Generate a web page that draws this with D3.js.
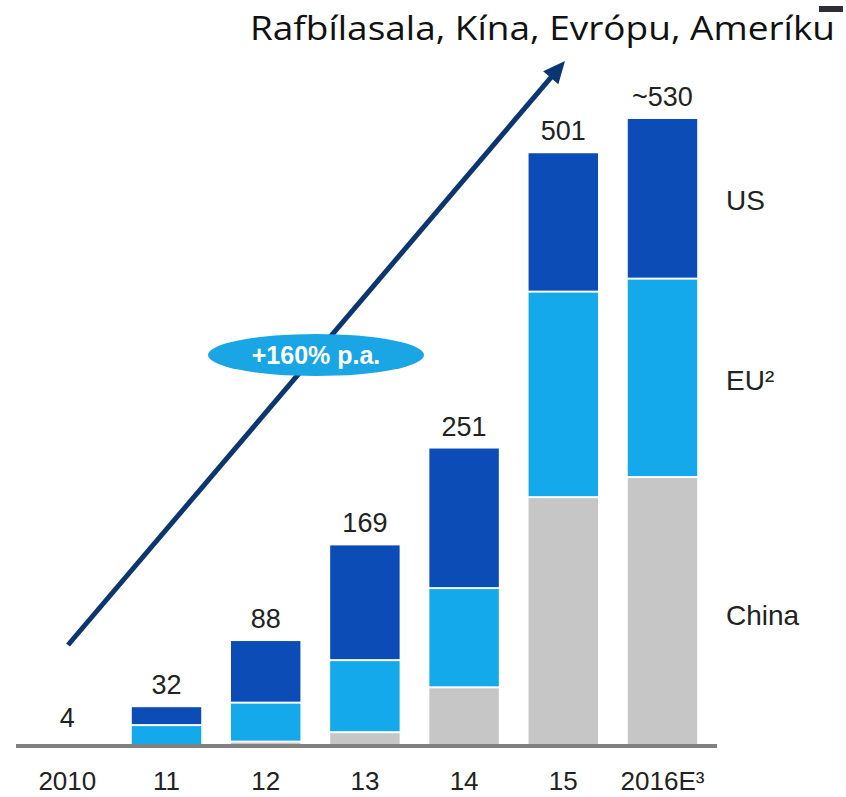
<!DOCTYPE html>
<html><head><meta charset="utf-8">
<script src="https://cdn.jsdelivr.net/npm/d3@7"></script>
<style>body{margin:0;background:#fff}svg{display:block}</style>
</head><body><svg id="c" width="846" height="797"></svg>
<script>
// ---- data ----
const categories = ["2010","11","12","13","14","15","2016E³"];
const totalLabels = ["4","32","88","169","251","501","~530"];
const china = [0, 0, 2, 10, 48, 209, 226];
const eu    = [0, 16, 33, 61, 84, 174, 168];
const us    = [0, 16, 53, 98, 119, 118, 136];
const totals = [4, 32, 88, 169, 251, 501, 530];
const seriesNames = ["China","EU²","US"];
const title = "Rafbílasala, Kína, Evrópu, Ameríku";
const growthLabel = "+160% p.a.";

const colors = {"China":"#c6c6c6","EU²":"#14a9eb","US":"#0b4cb6"};

const svg = d3.select("#c");
const baseY = 745;
const x = d3.scaleBand().domain(categories).range([32.6, 697.2]).paddingInner(0.3).paddingOuter(0);
const y = d3.scaleLinear().domain([0, 530]).range([baseY, 119]);

const rows = categories.map((c,i)=>({cat:c, "China":china[i], "EU²":eu[i], "US":us[i]}));
const stack = d3.stack().keys(seriesNames)(rows);

const gap = 2;
stack.forEach((layer, li) => {
  svg.append("g").selectAll("rect").data(layer.filter(d => d[1] > d[0])).join("rect")
    .attr("x", d => x(d.data.cat))
    .attr("width", x.bandwidth())
    .attr("y", d => y(d[1]))
    .attr("height", d => Math.max(0, y(d[0]) - y(d[1]) - (d[0] > 0 ? gap : 0)))
    .attr("fill", colors[seriesNames[li]]);
});

// baseline
svg.append("line").attr("x1", 16).attr("x2", 717).attr("y1", baseY+1).attr("y2", baseY+1)
  .attr("stroke", "#808080").attr("stroke-width", 4);

const font = "'Liberation Sans', Arial, sans-serif";
// total labels
svg.append("g").selectAll("text").data(categories).join("text")
  .attr("x", d => x(d) + x.bandwidth()/2)
  .attr("y", (d,i) => y(totals[i]) - 13)
  .attr("text-anchor","middle").attr("font-family", font).attr("font-size", 27)
  .attr("fill","#222").text((d,i)=>totalLabels[i]);

// category labels
svg.append("g").selectAll("text").data(categories).join("text")
  .attr("x", d => x(d) + x.bandwidth()/2)
  .attr("y", 790)
  .attr("text-anchor","middle").attr("font-family", font).attr("font-size", 26)
  .attr("fill","#222").text(d=>d);

// series labels on right
const legendY = {"US": 210, "EU²": 390, "China": 625};
seriesNames.forEach(s => {
  svg.append("text").attr("x", 726).attr("y", legendY[s])
    .attr("font-family", font).attr("font-size", 28).attr("fill","#222").text(s);
});

// arrow
const ax0 = 68, ay0 = 645, ax1 = 565, ay1 = 61;
const ang = Math.atan2(ay1-ay0, ax1-ax0);
const headLen = 22, headW = 10;
const lx = ax1 - Math.cos(ang)*headLen*0.8, ly = ay1 - Math.sin(ang)*headLen*0.8;
svg.append("line").attr("x1", ax0).attr("y1", ay0).attr("x2", lx).attr("y2", ly)
  .attr("stroke", "#0c3670").attr("stroke-width", 5);
const bx = ax1 - Math.cos(ang)*headLen, by = ay1 - Math.sin(ang)*headLen;
const px = -Math.sin(ang), py = Math.cos(ang);
svg.append("path")
  .attr("d", `M${ax1},${ay1} L${bx+px*headW},${by+py*headW} L${bx-px*headW},${by-py*headW} Z`)
  .attr("fill", "#0c3670");

// growth ellipse
svg.append("ellipse").attr("cx", 316).attr("cy", 355).attr("rx", 108).attr("ry", 21).attr("fill", "#1aa6e4");
svg.append("text").attr("x", 316).attr("y", 364).attr("text-anchor","middle")
  .attr("font-family", font).attr("font-weight","bold").attr("font-size", 25).attr("fill","#fff")
  .text(growthLabel);

// title
svg.append("text").attr("x", 250).attr("y", 40).attr("font-family","'Open Sans', sans-serif")
  .attr("font-size", 33).attr("fill","#111").attr("textLength", 585).attr("lengthAdjust","spacingAndGlyphs")
  .text(title);
svg.append("rect").attr("x", 819).attr("y", 6).attr("width", 24).attr("height", 6).attr("fill", "#2b2f33");
</script></body></html>
